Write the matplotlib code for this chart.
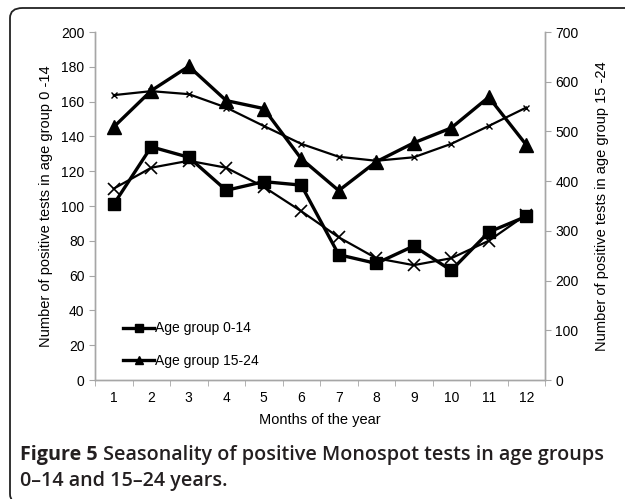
import numpy as np
import matplotlib.pyplot as plt
from matplotlib.patches import FancyBboxPatch

months = list(range(1, 13))
month_labels = [str(m) for m in months]

# positive tests, age group 0-14 (left axis)
young = [101, 134, 128, 109, 114, 112, 72, 67, 77, 63, 85, 94]
young_fit = [110, 122, 126, 122, 111, 97, 82, 70, 66, 70, 80, 95]

# positive tests, age group 15-24 (right axis)
older = [509, 582, 631, 562, 546, 445, 381, 439, 477, 507, 569, 473]
older_fit = [573, 581, 575, 548, 511, 475, 449, 441, 448, 475, 511, 548]

plt.rcParams['font.family'] = ['Liberation Sans', 'DejaVu Sans']

W, H = 625, 499
fig = plt.figure(figsize=(W / 100, H / 100), dpi=100)

# rounded frame around the figure (runs off the right/bottom edge)
box = FancyBboxPatch((10 / W, -5 / H), 640 / W, (H - 8 + 5) / H,
                     boxstyle="round,pad=0,rounding_size=0.02",
                     transform=fig.transFigure, fill=False,
                     edgecolor='#222222', linewidth=1.3, clip_on=False)
fig.patches.append(box)

ax = fig.add_axes([95 / W, 1 - 380 / H, 450 / W, 348 / H])
ax2 = ax.twinx()

grey = '#a6a6a6'
for a in (ax, ax2):
    a.set_xlim(0.5, 12.5)
    a.spines['top'].set_visible(False)
    for s in ('left', 'right', 'bottom'):
        a.spines[s].set_color(grey)
        a.spines[s].set_linewidth(1.0)
    a.tick_params(axis='both', color=grey, labelsize=10, length=4)

ax.set_ylim(0, 200)
ax.set_yticks(np.arange(0, 201, 20))
ax2.set_ylim(0, 700)
ax2.set_yticks(np.arange(0, 701, 100))

ax.set_xticks(months)
ax.set_xticklabels(month_labels)
ax.tick_params(axis='x', length=0, pad=8)
ax.set_xticks(np.arange(0.5, 13, 1), minor=True)
ax.tick_params(axis='x', which='minor', length=4, color=grey)

# fitted curves
ax.plot(months, young_fit, color='black', lw=1.6, marker='x', ms=9, mew=1.2)
ax2.plot(months, older_fit, color='black', lw=1.6, marker='x', ms=5, mew=1.0)

# observed counts
ax.plot(months, young, color='black', lw=2.4, marker='s', ms=9)
ax2.plot(months, older, color='black', lw=2.4, marker='^', ms=10)

ax.set_xlabel('Months of the year', fontsize=10.5, labelpad=6)
ax.set_ylabel('Number of positive tests in age group 0 -14', fontsize=10.5, labelpad=6)
ax2.set_ylabel('Number of positive tests in age group 15 -24', fontsize=10.5, labelpad=12)

h1, = ax2.plot([], [], color='black', lw=2.4, marker='s', ms=6)
h2, = ax2.plot([], [], color='black', lw=2.4, marker='^', ms=6)
ax2.legend([h1, h2], ['Age group 0-14', 'Age group 15-24'], loc='lower left',
           bbox_to_anchor=(0.035, 0.0), frameon=False, fontsize=10,
           handlelength=2.2, labelspacing=1.3, handletextpad=0.1)

cap = {'family': ['Open Sans', 'DejaVu Sans'], 'size': 14.2, 'color': '#231f20'}
t1 = fig.text(20 / W, 1 - 460 / H, 'Figure 5', fontweight='bold', **cap)
ax.annotate(' Seasonality of positive Monospot tests in age groups',
            xy=(1, 0), xycoords=t1, va='bottom', ha='left',
            fontweight='semibold', annotation_clip=False, **cap)
fig.text(20 / W, 1 - 486 / H, '0\u201314 and 15\u201324 years.',
         fontweight='semibold', **cap)

fig.savefig('out.png', dpi=100)
